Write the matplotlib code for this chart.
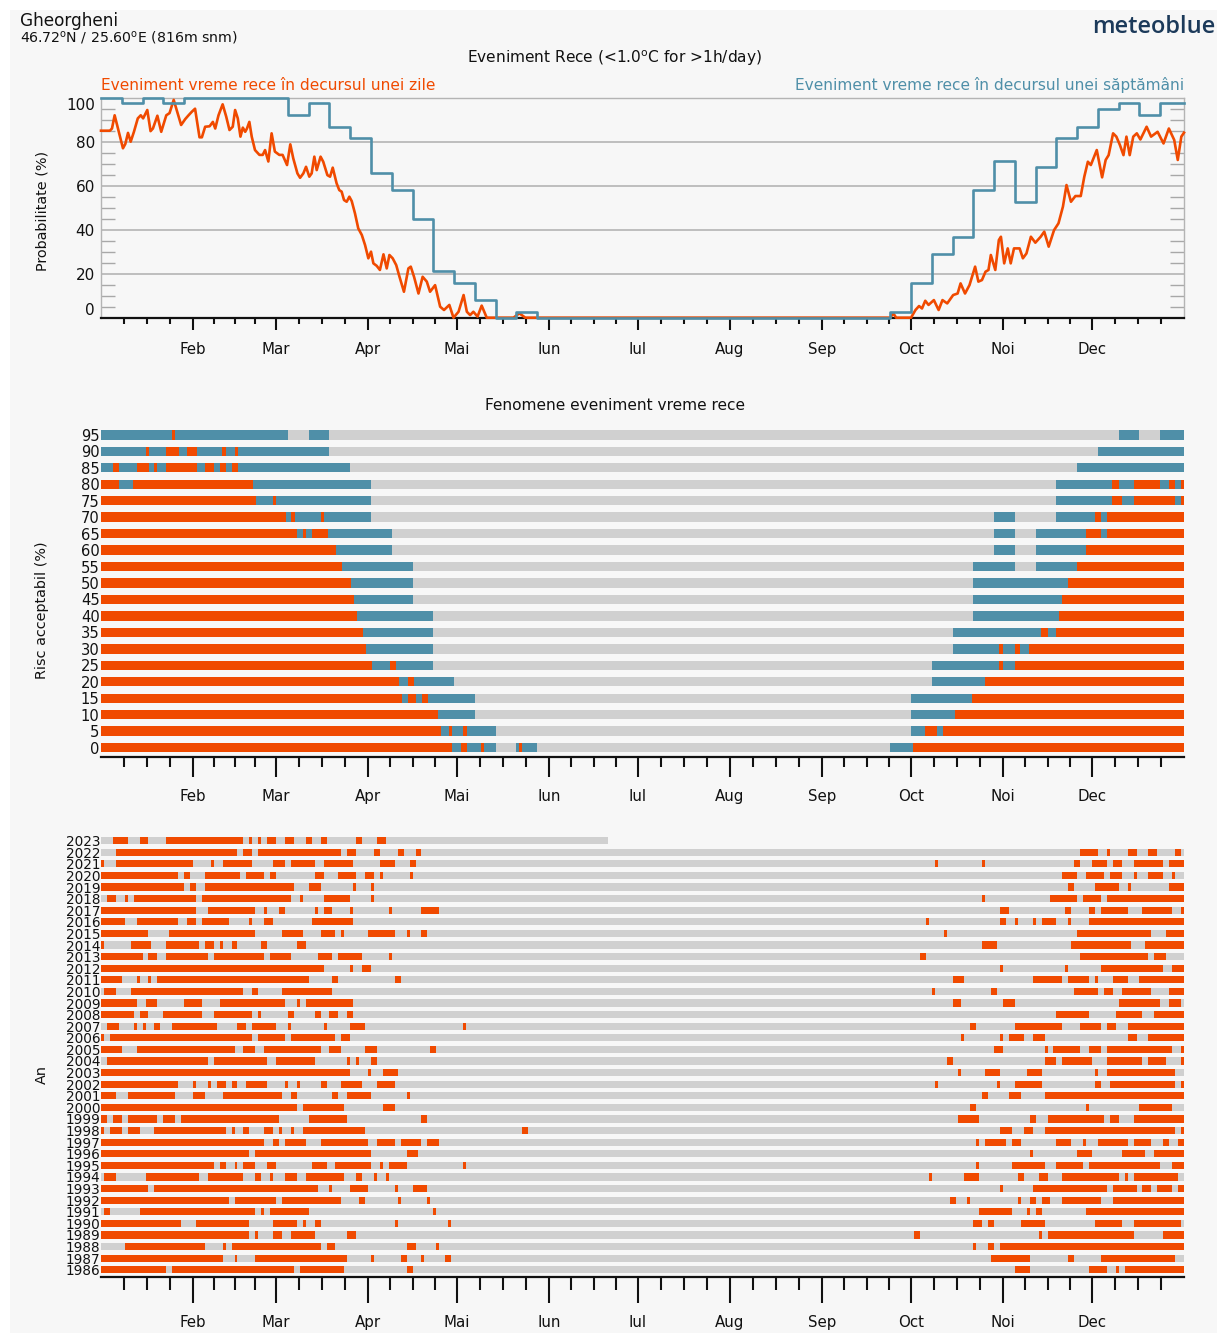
import matplotlib
matplotlib.use('Agg')
import matplotlib.pyplot as plt
from matplotlib.patches import Rectangle
from matplotlib.ticker import FixedLocator

RED = '#f04a00'
BLUE = '#4f8fa8'
GREY = '#d0d0d0'
BG = '#f7f7f7'

# day-of-year axis
month_starts = [0, 31, 59, 90, 120, 151, 181, 212, 243, 273, 304, 334, 365]
month_labels = ['Feb', 'Mar', 'Apr', 'Mai', 'Iun', 'Iul', 'Aug', 'Sep', 'Oct', 'Noi', 'Dec']

# weekly probability of a cold event (%), week k covers days 7k..7k+7
weekly_prob = [100, 97.4, 100, 97.4, 100, 100, 100, 100, 100, 92.1, 97.4, 86.8, 81.6,
               65.8, 57.9, 44.7, 21.1, 15.8, 7.9, 0, 2.6, 0, 0, 0, 0, 0, 0, 0, 0, 0,
               0, 0, 0, 0, 0, 0, 0, 0, 2.6, 15.8, 28.9, 36.8, 57.9, 71.1, 52.6, 68.4,
               81.6, 86.8, 94.7, 97.4, 92.1, 97.4, 97.4]

# daily probability of a cold event (%)
daily_days = [0, 3, 3.7, 4.6, 6, 7.4, 8.2, 9.1, 10, 11.1, 12.4, 13.4, 14.2, 15.6, 16.7, 17.5,
              19, 20.3, 22, 23.1, 24.5, 25.7, 27, 28.4, 29.5, 30.6, 31.7, 33.2, 34, 35.1,
              36.6, 37.7, 38.5, 39.6, 41, 42.2, 43.3, 44.4, 45.2, 46.1, 47, 47.8, 48.6,
              49.2, 50, 50.8, 51.9, 53.4, 54.5, 55.3, 56.4, 57.5, 58.6, 60.1, 61.2, 62.7,
              63.8, 64.8, 66.2, 67.1, 68.2, 69.1, 70.2, 71, 71.9, 72.7, 74, 74.9, 76.3,
              77.2, 78.1, 79.4, 80.3, 81.1, 81.9, 82.8, 83.7, 84.5, 85.6, 86.7, 87.9, 89,
              90.1, 91, 91.8, 92.9, 94, 95.2, 96.3, 97.2, 98.3, 99.5, 100.6, 102.1, 103.6,
              104.4, 105.5, 107, 108.4, 109.8, 110.9, 112.6, 114.3, 115.6, 117.4, 118.8,
              120.5, 122.2, 123.3, 124.4, 125.5, 126.9, 128.3, 130, 139, 141, 143, 266,
              267, 268, 273, 274.5, 275.7, 276.7, 277.8, 278.9, 280.7, 282.3, 283.6, 285.2,
              287.2, 288.7, 289.7, 291.2, 292.7, 294.6, 295.7, 296.9, 298.1, 299.1, 299.9,
              301.4, 302.6, 303.3, 304.4, 305.6, 306.6, 307.7, 309.6, 310.7, 311.9, 313.4,
              314.9, 316.7, 317.9, 319.4, 321.2, 322.7, 324.2, 325.4, 326.9, 328.4, 330.2,
              331.4, 332.6, 333.6, 335.6, 337.4, 338.6, 339.6, 341.1, 342.2, 343.4, 344.6,
              345.6, 346.7, 347.9, 349.1, 350.3, 352.4, 353.9, 356.1, 358.1, 359.9, 361.7,
              362.9, 364.1, 365]
daily_prob = [85, 85, 86, 92, 84.5, 77, 79, 84, 80, 84.5, 90.6, 92, 90.6, 94.4, 84.8, 86,
              91.8, 84.5, 92, 93, 99, 93.6, 87.6, 90.3, 92, 93.6, 95, 82, 82, 86.8,
              87, 89, 86, 92, 97, 91.4, 85.3, 86.8, 94.4, 90.6, 82.3, 86.4, 84.5,
              86, 89, 82.3, 76.2, 74, 74, 76.2, 71, 83.8, 75.5, 74, 74, 69.4,
              78.8, 72.4, 65.6, 63.6, 65.6, 68.6, 64.1, 65.6, 73.2, 67.1, 73.2, 70.9, 64.8,
              64.1, 68.2, 61.1, 58, 57.3, 53.5, 52.7, 55, 53, 47.4, 40.6, 37.6, 33,
              27, 30, 24.7, 23.6, 21.7, 28.8, 22.4, 28.5, 27, 23.9, 18.6, 11.8, 22.4,
              23.2, 18.6, 11, 18.6, 16.4, 11.8, 14.8, 5, 3.5, 5.8, 0,
              2.7, 10.3, 2.7, 1.2, 2.7, 0.5, 5.5, 0, 0, 2, 0, 0,
              2, 0, 0, 3.5, 5.3, 4.2, 7.7, 5.8, 8, 3.5, 8, 6.5,
              10.3, 11, 15.6, 11, 14.8, 23.2, 16.4, 17.1, 20.9, 21.7, 28.5,
              21.7, 35.3, 36.8, 24.7, 31.5, 24.7, 31.5, 31.5, 27, 29.2, 36.8,
              34.1, 36.8, 39.1, 32.3, 39.8, 42.9, 50.5, 60.3, 52.7, 55.3, 55.3,
              64.1, 70.9, 69.4, 76.2, 63.8, 71.7, 73.9, 83.8, 82.3, 78.5, 73.9,
              82.3, 73.9, 82.3, 83.8, 81, 86.8, 82.3, 84.5, 79.2, 86, 80.8,
              71.7, 82.3, 84.1]

# acceptable risk levels and the day spans where the daily event exceeds them
risk_levels = [0, 5, 10, 15, 20, 25, 30, 35, 40, 45, 50, 55, 60, 65, 70, 75, 80, 85, 90, 95]
risk_red = {
    95: [(23.9, 25.1)],
    90: [(15.1, 16.2), (21.9, 26.2), (29.1, 32.2), (40.9, 42.1), (45.2, 46.1)],
    85: [(4.2, 6.1), (12.1, 16.1), (17.9, 19.0), (21.9, 32.2), (34.9, 38.1), (40.0, 42.1),
         (44.0, 46.1)],
    80: [(0, 6.1), (10.9, 51.1), (340.8, 343), (348, 357), (359.9, 362.1), (364, 365)],
    75: [(0, 52.1), (58.1, 59.1), (340.8, 344), (348, 362.1), (364, 365)],
    70: [(0, 62.2), (64, 65.3), (74.2, 75.2), (334.9, 337.1), (338.9, 365)],
    65: [(0, 66.2), (68.2, 69.1), (71.1, 76.4), (332, 337.1), (338.9, 365)],
    60: [(0, 79.3), (332, 365)],
    55: [(0, 81.2), (329, 365)],
    50: [(0, 84.4), (325.9, 365)],
    45: [(0, 85.3), (324, 365)],
    40: [(0, 86.3), (323, 365)],
    35: [(0, 88.3), (316.9, 319), (321.8, 365)],
    30: [(0, 89.3), (302.8, 303.9), (307.9, 309.8), (312.8, 365)],
    25: [(0, 91.2), (97.3, 99.3), (302.8, 303.9), (307.9, 365)],
    20: [(0, 100.4), (103.3, 105.4), (297.8, 365)],
    15: [(0, 101.5), (103.3, 106.3), (108.1, 110.2), (293.6, 365)],
    10: [(0, 113.5), (287.8, 365)],
    5: [(0, 114.5), (117.3, 118.3), (122.1, 123.3), (277.8, 281.9), (283.7, 365)],
    0: [(0, 118.3), (121.3, 123.3), (128.2, 129.2), (141, 142), (273.8, 365)],
}

# observed cold-event days per year (start, end day of year)
years = list(range(1986, 2024))
year_last_day = {2023: 171}
cold_days = {
    2023: [(4, 9), (13, 16), (22, 48), (50, 51), (53, 54), (56, 59), (62, 65), (69, 71), (74, 76),
           (86, 88), (93, 96)],
    2022: [(5, 46), (48, 51), (53, 81), (83, 86), (92, 94), (100, 102), (106, 108), (330, 336),
           (339, 340), (346, 349), (353, 356), (362, 364)],
    2021: [(0, 1), (5, 31), (37, 38), (41, 51), (58, 62), (64, 72), (75, 85), (94, 99), (104, 106),
           (281, 282), (297, 298), (328, 330), (334, 339), (341, 344), (348, 358), (360, 365)],
    2020: [(0, 26), (28, 30), (35, 47), (49, 55), (57, 59), (72, 75), (80, 86), (89, 92), (94, 95),
           (104, 105), (324, 329), (332, 338), (340, 344), (348, 349), (353, 358), (361, 362)],
    2019: [(0, 28), (30, 32), (35, 65), (70, 74), (85, 86), (91, 92), (326, 328), (335, 343),
           (346, 347), (360, 365)],
    2018: [(2, 5), (8, 9), (11, 32), (34, 64), (67, 68), (75, 84), (91, 92), (297, 298), (320, 329),
           (331, 337), (339, 365)],
    2017: [(0, 32), (36, 52), (55, 56), (60, 62), (72, 73), (75, 78), (84, 85), (97, 98), (108, 114),
           (303, 306), (325, 327), (333, 335), (337, 346), (351, 361), (364, 365)],
    2016: [(0, 8), (12, 26), (29, 32), (34, 43), (50, 51), (55, 58), (71, 85), (278, 279), (303, 305),
           (308, 309), (314, 315), (317, 322), (326, 327), (333, 365)],
    2015: [(0, 16), (23, 52), (61, 68), (74, 79), (81, 82), (90, 99), (103, 104), (108, 110),
           (284, 285), (329, 354), (359, 365)],
    2014: [(0, 1), (10, 17), (22, 33), (35, 38), (40, 41), (44, 46), (54, 56), (66, 69), (297, 302),
           (327, 347), (352, 365)],
    2013: [(0, 14), (16, 19), (22, 36), (38, 55), (57, 64), (73, 78), (80, 88), (97, 98), (276, 278),
           (330, 353), (355, 359)],
    2012: [(0, 75), (84, 85), (88, 91), (303, 304), (325, 326), (337, 358), (361, 365)],
    2011: [(0, 7), (12, 13), (16, 17), (19, 70), (78, 80), (99, 101), (287, 291), (314, 324),
           (326, 333), (335, 336), (341, 346), (350, 365)],
    2010: [(1, 5), (10, 48), (51, 53), (61, 78), (280, 281), (300, 302), (328, 336), (338, 341),
           (344, 354), (360, 365)],
    2009: [(0, 12), (15, 19), (28, 34), (40, 62), (66, 67), (69, 85), (287, 290), (304, 308),
           (343, 357), (360, 364)],
    2008: [(0, 11), (13, 16), (21, 34), (38, 51), (53, 54), (63, 65), (72, 74), (77, 80), (83, 85),
           (322, 333), (342, 351), (355, 365)],
    2007: [(2, 6), (11, 12), (14, 15), (18, 20), (24, 39), (46, 49), (51, 59), (63, 64), (75, 76),
           (84, 89), (122, 123), (293, 295), (308, 324), (330, 337), (339, 342), (346, 365)],
    2006: [(0, 1), (3, 51), (53, 62), (64, 79), (81, 84), (290, 291), (303, 304), (306, 311),
           (314, 318), (346, 349), (353, 365)],
    2005: [(0, 7), (12, 45), (48, 52), (55, 74), (77, 81), (89, 93), (111, 113), (301, 304),
           (318, 319), (321, 330), (333, 337), (339, 361), (364, 365)],
    2004: [(2, 36), (38, 56), (59, 72), (83, 84), (86, 87), (91, 93), (285, 287), (318, 322),
           (324, 334), (339, 351), (353, 359), (364, 365)],
    2003: [(0, 84), (90, 91), (95, 100), (289, 290), (298, 303), (312, 317), (335, 336), (339, 362)],
    2002: [(0, 26), (31, 32), (36, 37), (39, 42), (44, 46), (49, 56), (62, 63), (66, 67), (74, 76),
           (81, 88), (93, 99), (281, 282), (302, 303), (308, 317), (335, 337), (340, 362), (364, 365)],
    2001: [(0, 5), (9, 25), (31, 35), (41, 61), (64, 66), (78, 80), (83, 91), (103, 104), (297, 299),
           (306, 310), (318, 365)],
    2000: [(0, 66), (68, 82), (95, 99), (293, 295), (332, 333), (350, 361)],
    1999: [(0, 2), (4, 7), (9, 19), (21, 25), (27, 60), (70, 83), (108, 110), (289, 296), (313, 315),
           (319, 338), (340, 343), (348, 365)],
    1998: [(0, 1), (3, 7), (9, 13), (18, 42), (44, 45), (48, 50), (55, 58), (60, 61), (64, 65),
           (68, 89), (142, 144), (303, 307), (311, 314), (318, 362), (364, 365)],
    1997: [(0, 55), (58, 60), (62, 69), (74, 90), (93, 99), (101, 108), (110, 114), (295, 296),
           (298, 305), (307, 310), (322, 327), (331, 332), (336, 346), (348, 354), (358, 360),
           (363, 365)],
    1996: [(0, 50), (52, 91), (103, 107), (313, 314), (329, 334), (344, 352), (355, 365)],
    1995: [(0, 38), (40, 42), (45, 46), (48, 52), (56, 59), (71, 76), (79, 91), (94, 95), (97, 103),
           (122, 123), (295, 296), (307, 318), (322, 331), (333, 357), (361, 365)],
    1994: [(1, 5), (15, 33), (36, 48), (52, 54), (57, 58), (62, 66), (69, 82), (86, 88), (92, 93),
           (96, 97), (279, 280), (291, 296), (309, 311), (316, 319), (324, 343), (345, 346), (348, 363)],
    1993: [(0, 16), (18, 73), (77, 78), (84, 90), (99, 100), (105, 110), (303, 304), (314, 339),
           (341, 349), (351, 354), (356, 361), (363, 365)],
    1992: [(0, 43), (45, 59), (61, 81), (87, 89), (100, 101), (110, 111), (286, 288), (292, 293),
           (309, 310), (313, 315), (317, 320), (324, 337), (341, 365)],
    1991: [(1, 3), (13, 52), (54, 55), (57, 70), (112, 113), (296, 307), (312, 313), (315, 317),
           (332, 365)],
    1990: [(0, 27), (32, 50), (58, 66), (68, 69), (72, 74), (99, 100), (117, 118), (294, 297),
           (299, 301), (310, 318), (335, 344), (348, 364)],
    1989: [(0, 50), (52, 53), (58, 61), (64, 72), (83, 86), (274, 276), (316, 317), (319, 348),
           (358, 365)],
    1988: [(8, 35), (41, 42), (44, 74), (76, 79), (103, 106), (113, 114), (294, 295), (299, 301),
           (303, 365)],
    1987: [(0, 41), (45, 46), (52, 83), (91, 92), (101, 103), (108, 109), (116, 118), (300, 313),
           (326, 328), (337, 362)],
    1986: [(0, 22), (24, 65), (67, 82), (103, 105), (308, 313), (333, 339), (342, 343), (345, 365)],
}

W, H = 1217, 1333
fig = plt.figure(figsize=(W / 100, H / 100), dpi=100)
fig.patch.set_facecolor('white')
fig.patches.append(Rectangle((10 / W, 0), 1 - 10 / W, 1 - 10 / H, transform=fig.transFigure,
                             facecolor=BG, edgecolor='none', zorder=-10))


def px_axes(left, top, right, bottom):
    return fig.add_axes([left / W, 1 - bottom / H, (right - left) / W, (bottom - top) / H])


def style_days_axis(ax, major_len):
    # major_len in points, minor ticks are half as long
    ax.set_xlim(0, 365)
    ax.set_facecolor('none')
    ax.xaxis.set_major_locator(FixedLocator(month_starts[1:12]))
    ax.set_xticklabels(month_labels)
    minor = []
    for a, b in zip(month_starts[:-1], month_starts[1:]):
        minor += [a + (b - a) * q / 4 for q in (1, 2, 3)]
    ax.xaxis.set_minor_locator(FixedLocator(minor))
    ax.tick_params(axis='x', which='major', direction='out', length=major_len, width=1.5,
                   pad=9, labelsize=10.8, colors='#111111')
    ax.tick_params(axis='x', which='minor', direction='out', length=major_len / 2, width=1.5,
                   color='#111111')
    ax.spines['bottom'].set_color('#111111')
    ax.spines['bottom'].set_linewidth(1.6)


def merged_weeks(threshold):
    spans = []
    for k, v in enumerate(weekly_prob):
        if v > threshold:
            s, e = 7 * k, min(7 * k + 7, 365)
            if spans and spans[-1][1] == s:
                spans[-1] = (spans[-1][0], e)
            else:
                spans.append((s, e))
    return spans


# header
fig.text(20 / W, 1 - 21 / H, 'Gheorgheni', fontsize=12.2, va='center', ha='left', color='#111111')
fig.text(20 / W, 1 - 38 / H, '46.72$^\\mathrm{o}$N / 25.60$^\\mathrm{o}$E (816m snm)', fontsize=10.2,
         va='center', ha='left', color='#111111')
fig.text(1215 / W, 1 - 27 / H, 'meteoblue', fontsize=17, va='center', ha='right', color='#1c3a5a',
         family='Open Sans', fontweight='semibold')
fig.text(615 / W, 1 - 58 / H, 'Eveniment Rece (<1.0$^\\mathrm{o}$C for >1h/day)', fontsize=11.1,
         va='center', ha='center', color='#111111')
fig.text(101 / W, 1 - 85 / H, 'Eveniment vreme rece în decursul unei zile', fontsize=11.1,
         va='center', ha='left', color=RED)
fig.text(1184 / W, 1 - 85 / H, 'Eveniment vreme rece în decursul unei săptămâni', fontsize=11.1,
         va='center', ha='right', color=BLUE)

# top panel: probability lines
ax1 = px_axes(101, 97.7, 1184, 317.7)
style_days_axis(ax1, 8.6)
ax1.set_ylim(0, 100)
for g in (20, 40, 60, 80):
    ax1.axhline(g, color='#b4b4b4', lw=1.2, zorder=0)
for sp in ('top', 'left', 'right'):
    ax1.spines[sp].set_color('#b4b4b4')
    ax1.spines[sp].set_linewidth(1.0)
ax1.plot(daily_days, daily_prob, color=RED, lw=1.9, zorder=3, clip_on=False)
week_x = [7 * k for k in range(len(weekly_prob))] + [365]
ax1.plot(week_x, weekly_prob + [weekly_prob[-1]], drawstyle='steps-post', color=BLUE, lw=1.9,
         zorder=4, clip_on=False)
ax1.set_yticks([0, 20, 40, 60, 80, 100])
ax1.set_yticklabels(['0', '20', '40', '60', '80', '100'])
ax1.yaxis.set_minor_locator(FixedLocator([v for v in range(5, 100, 5) if v % 20]))
ax1.tick_params(axis='y', which='major', length=0, pad=4.5, labelsize=11, colors='#111111')
ax1.tick_params(axis='y', which='minor', direction='in', length=10, width=1.0, color='#a8a8a8',
                left=True, right=True)
labels = ax1.get_yticklabels()
labels[0].set_verticalalignment('bottom')
labels[-1].set_verticalalignment('top')
fig.text(42 / W, 1 - 211 / H, 'Probabilitate (%)', rotation=90, fontsize=10.4, va='center',
         ha='center', color='#111111')

# middle panel: acceptable risk
fig.text(615 / W, 1 - 405 / H, 'Fenomene eveniment vreme rece', fontsize=11.1, va='center',
         ha='center', color='#111111')
ax2 = px_axes(101, 425, 1184, 756.7)
style_days_axis(ax2, 14.4)
ax2.set_ylim(-0.55, 19.6)
bh = 0.57
for i, r in enumerate(risk_levels):
    ax2.barh(i, 365, left=0, height=bh, color=GREY, linewidth=0)
    for s, e in merged_weeks(r):
        ax2.barh(i, e - s, left=s, height=bh, color=BLUE, linewidth=0)
    for s, e in risk_red[r]:
        ax2.barh(i, e - s, left=s, height=bh, color=RED, linewidth=0)
ax2.set_yticks(range(len(risk_levels)))
ax2.set_yticklabels([str(r) for r in risk_levels])
ax2.tick_params(axis='y', length=0, pad=1, labelsize=10.6, colors='#111111')
for sp in ('top', 'left', 'right'):
    ax2.spines[sp].set_visible(False)
fig.text(42 / W, 1 - 610 / H, 'Risc acceptabil (%)', rotation=90, fontsize=10.4, va='center',
         ha='center', color='#111111')

# bottom panel: yearly events
ax3 = px_axes(101, 833.7, 1184, 1276.7)
style_days_axis(ax3, 18.7)
ax3.set_ylim(-0.6, 37.6)
bh = 0.62
for i, y in enumerate(years):
    last = year_last_day.get(y, 365)
    ax3.barh(i, last, left=0, height=bh, color=GREY, linewidth=0)
    for s, e in cold_days[y]:
        ax3.barh(i, e - s, left=s, height=bh, color=RED, linewidth=0)
ax3.set_yticks(range(len(years)))
ax3.set_yticklabels([str(y) for y in years])
ax3.tick_params(axis='y', length=0, pad=0.5, labelsize=9.8, colors='#111111')
for sp in ('top', 'left', 'right'):
    ax3.spines[sp].set_visible(False)
fig.text(42 / W, 1 - 1075 / H, 'An', rotation=90, fontsize=10.4, va='center', ha='center',
         color='#111111')

fig.savefig('out.png', dpi=100, facecolor=fig.get_facecolor())
